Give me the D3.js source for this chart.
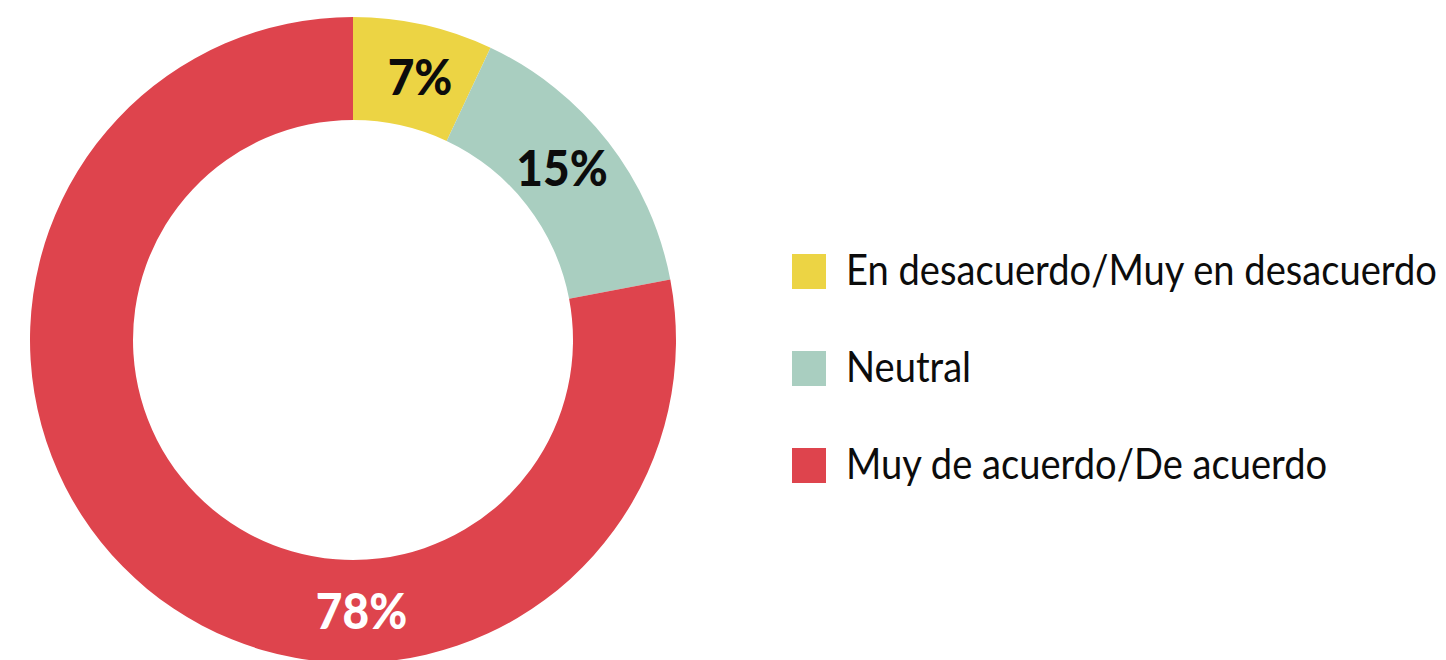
<!DOCTYPE html>
<html>
<head>
<meta charset="utf-8">
<script src="https://cdn.jsdelivr.net/npm/d3@7"></script>
<style>
  body { margin: 0; background: #fff; }
  svg { display: block; }
</style>
</head>
<body>
<script>
const categories = ["En desacuerdo/Muy en desacuerdo", "Neutral", "Muy de acuerdo/De acuerdo"];
const values = [7, 15, 78];
const colors = ["#ECD444", "#A9CEC0", "#DE444D"];
const labelColors = ["#0c0c0c", "#0c0c0c", "#fff"];

const w = 1446, h = 660;
const cx = 353, cy = 340;
const R = 323, r = 220;

const svg = d3.select("body").append("svg").attr("width", w).attr("height", h);

const pie = d3.pie().sort(null).value(d => d);
const arcs = pie(values);
const arc = d3.arc().innerRadius(r).outerRadius(R);

const g = svg.append("g").attr("transform", "translate(" + cx + "," + cy + ")");

g.selectAll("path")
  .data(arcs)
  .enter().append("path")
  .attr("d", arc)
  .attr("fill", (d, i) => colors[i]);

// labels: near the centroid, except the big slice whose label sits at the bottom
const mid = 271;
const labelAngle = (d, i) => i === 2 ? Math.PI * 0.99 : (d.startAngle + d.endAngle) / 2 + (i === 0 ? 0.03 : -0.03);
g.selectAll("text")
  .data(arcs)
  .enter().append("text")
  .attr("transform", (d, i) => {
    let a = labelAngle(d, i);
    return "translate(" + (mid * Math.sin(a)) + "," + (-mid * Math.cos(a)) + ") scale(0.92,1)";
  })
  .attr("text-anchor", "middle")
  .attr("dy", "0.36em")
  .attr("font-family", "Lato, sans-serif")
  .attr("font-weight", "900")
  .attr("font-size", "50px")
  .attr("fill", (d, i) => labelColors[i])
  .text(d => d.data + "%");

// legend
const legend = svg.append("g").attr("transform", "translate(792,254)");
const item = legend.selectAll("g")
  .data(categories)
  .enter().append("g")
  .attr("transform", (d, i) => "translate(0," + i * 97 + ")");

item.append("rect")
  .attr("width", 34)
  .attr("height", 35)
  .attr("fill", (d, i) => colors[i]);

const texts = item.append("text")
  .attr("x", 54)
  .attr("y", 31)
  .attr("font-family", "Lato, sans-serif")
  .attr("font-size", "42px")
  .attr("fill", "#0c0c0c")
  .text(d => d);

// squeeze the legend text horizontally so the longest line ends near the right edge
const maxLen = d3.max(texts.nodes(), n => n.getComputedTextLength());
const sx = Math.min(1, 591 / maxLen);
texts.attr("transform", "translate(54,0) scale(" + sx + ",1) translate(-54,0)");
</script>
</body>
</html>
